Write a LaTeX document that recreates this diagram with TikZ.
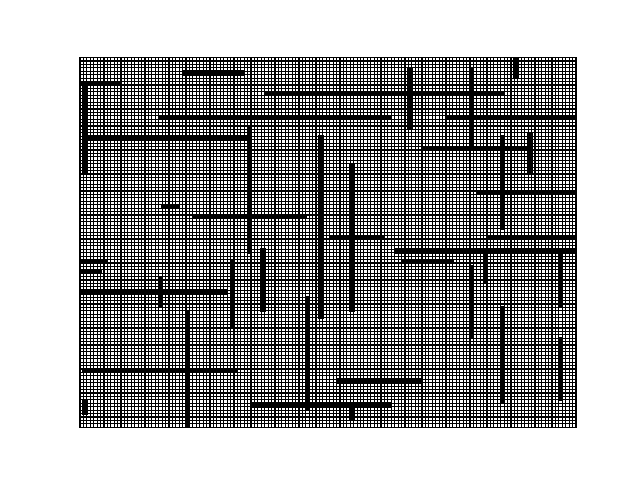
\documentclass[tikz,border=0pt]{standalone}
\begin{document}
\begin{tikzpicture}[x=1pt, y=1pt,
    rejilla/.style={black, line width=1.15pt},
    pared/.style={fill=black, draw=black, line width=2pt},
    marco/.style={black, line width=1.1pt}]
    % Tamaño del laberinto
    \def\ncols{145}
    \def\nfilas{108}

    \useasboundingbox[fill=white] (0,0) rectangle (640,480);

    \begin{scope}[shift={(80,52.8)}, x=3.4207pt, y=3.4222pt]
    % Fondo y cuadrícula
    \fill[white] (0,0) rectangle (\ncols,\nfilas);
    \draw[rejilla, step=1] (0,0) grid (\ncols,\nfilas);

    % Paredes horizontales
    \foreach \f/\a/\b in {100/0/12, 103/30/48, 97/54/124, 90/23/91, 90/107/145,
        84/1/50, 81/100/131, 68/116/145, 64/24/29, 61/33/66, 55/73/89,
        55/119/145, 51/92/145, 48/94/109, 48/0/8, 45/0/6, 39/0/43,
        16/1/46, 13/75/100, 6/50/91}
        \filldraw[pared] (\a,\f) rectangle (\b,\f+1);

    % Paredes verticales
    \foreach \c/\a/\b in {1/74/101, 96/87/105, 114/82/105, 127/102/108,
        131/74/86, 123/58/85, 49/51/88, 70/32/85, 79/34/77, 53/34/52,
        44/29/49, 23/35/44, 31/0/34, 66/5/38, 1/4/8, 79/2/7, 118/42/51,
        140/35/51, 114/26/47, 123/7/35, 140/8/26}
        \filldraw[pared] (\c,\a) rectangle (\c+1,\b);

    % Marco de los ejes
    \draw[marco] (0,0) rectangle (\ncols,\nfilas);
    \end{scope}
\end{tikzpicture}
\end{document}
